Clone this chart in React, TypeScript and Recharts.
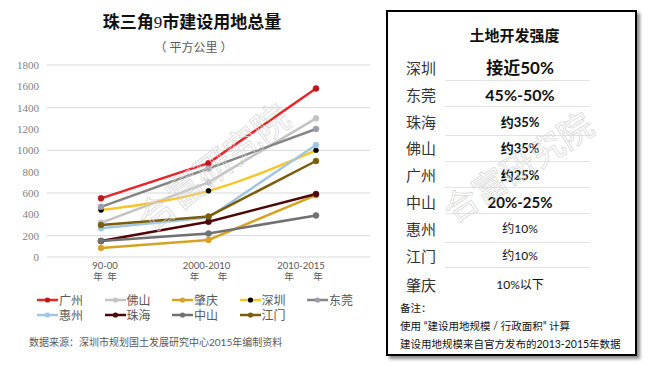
import { CartesianGrid, Line, LineChart, XAxis, YAxis } from "recharts"

// 时期
const categories = ["90-00", "2000-2010", "2010-2015"]

// 建设用地总量（平方公里）
const guangzhou = [550, 880, 1580]
const foshan = [320, 700, 1300]
const zhaoqing = [85, 160, 580]
const shenzhen = [440, 620, 1000]
const dongguan = [470, 830, 1200]
const huizhou = [270, 370, 1050]
const zhuhai = [150, 330, 590]
const zhongshan = [150, 220, 390]
const jiangmen = [300, 380, 900]

const seriesNames = ["广州", "佛山", "肇庆", "深圳", "东莞", "惠州", "珠海", "中山", "江门"]
const seriesValues = [guangzhou, foshan, zhaoqing, shenzhen, dongguan, huizhou, zhuhai, zhongshan, jiangmen]

const yTicks = [0, 200, 400, 600, 800, 1000, 1200, 1400, 1600, 1800]

// 土地开发强度
const intensityCities = ["深圳", "东莞", "珠海", "佛山", "广州", "中山", "惠州", "江门", "肇庆"]
const intensityValues = ["接近50%", "45%-50%", "约35%", "约35%", "约25%", "20%-25%", "约10%", "约10%", "10%以下"]
const notes = ["备注：", "使用 “建设用地规模 / 行政面积” 计算", "建设用地规模来自官方发布的2013-2015年数据"]

const lineColor: Record<string, string> = {
  广州: "#e5262b",
  佛山: "#c3c3c3",
  肇庆: "#d5a224",
  深圳: "#f7c52a",
  东莞: "#858585",
  惠州: "#a2c6e2",
  珠海: "#4d0707",
  中山: "#717171",
  江门: "#7c5d0a",
}
const dotColor: Record<string, string> = {
  ...lineColor,
  广州: "#c2151b",
  深圳: "#000000",
  东莞: "#9c9cae",
}

const data = categories.map((cat, i) => {
  const row: Record<string, string | number> = { cat }
  seriesNames.forEach((name, k) => {
    row[name] = seriesValues[k][i]
  })
  return row
})

const cjk = "Lato, 'Noto Sans CJK SC', sans-serif"
const grey = "#595959"

const labelShift = [4, -2, -15]
const yearShift = [
  [-7, 7],
  [-12, 16],
  [-12, 17],
]

function XTick(props: any) {
  const { x, y, payload, index } = props
  const i = payload?.index ?? index
  const cx = x + labelShift[i]
  return (
    <g fontFamily={cjk} fontSize={9.5} fill={grey}>
      <text x={cx} y={y + 4} textAnchor="middle">
        {payload.value}
      </text>
      {yearShift[i].map((d, k) => (
        <text key={k} x={cx + d} y={y + 15} textAnchor="middle">
          年
        </text>
      ))}
    </g>
  )
}

// 每行样式（字号 / 粗细）
const valueFont = [
  { size: 17, weight: 700 },
  { size: 16, weight: 700 },
  { size: 13, weight: 700 },
  { size: 13, weight: 700 },
  { size: 13, weight: 700 },
  { size: 15, weight: 700 },
  { size: 12, weight: 400 },
  { size: 12, weight: 400 },
  { size: 12, weight: 400 },
]
const rowY = [68, 95, 122, 148, 175, 202, 229, 256, 285]
const ruleY = [80, 106, 135, 161, 187, 213, 242, 267]

// 水印位置 [x, y, 角度, 字号]
const marks = [
  [222, 178, -38, 36],
  [525, 178, -33, 34],
]

export default function App() {
  return (
    <div style={{ position: "absolute", left: 0, top: 0, width: 651, height: 366, background: "#fff", fontFamily: cjk }}>
      <div style={{ position: "absolute", left: 0, width: 384, top: 10, textAlign: "center", fontSize: 17, fontWeight: 700, color: "#111", lineHeight: "24px" }}>
        珠三角<span style={{ fontFamily: "'Liberation Serif', serif", fontWeight: 400 }}>9</span>市建设用地总量
      </div>
      <div style={{ position: "absolute", left: 0, width: 387, top: 40, textAlign: "center", fontSize: 12, color: grey, lineHeight: "16px", whiteSpace: "pre" }}>
        （ 平方公里 ）
      </div>

      <div style={{ position: "absolute", left: 0, top: 0 }}>
        <LineChart width={380} height={366} data={data} margin={{ top: 65, right: 10, bottom: 79, left: 0 }}>
          <CartesianGrid vertical={false} stroke="#d9d9d9" />
          <XAxis
            dataKey="cat"
            axisLine={false}
            tickLine={false}
            height={30}
            padding={{ left: 54, right: 54 }}
            tick={<XTick />}
            interval={0}
          />
          <YAxis
            width={47}
            domain={[0, 1800]}
            ticks={yTicks}
            axisLine={false}
            tickLine={false}
            tick={{ fontFamily: "'Liberation Serif', serif", fontSize: 11, fill: "#7f7f7f" }}
          />
          {seriesNames.map((name) => (
            <Line
              key={name}
              type={name === "深圳" ? "monotone" : "linear"}
              dataKey={name}
              stroke={lineColor[name]}
              strokeWidth={2.5}
              dot={{ r: name === "深圳" ? 2.5 : 3, fill: dotColor[name], stroke: dotColor[name], strokeWidth: 0.5 }}
              isAnimationActive={false}
            />
          ))}
        </LineChart>
      </div>

      {/* 图例 */}
      <div style={{ position: "absolute", left: 37, top: 292, width: 345, display: "flex", flexWrap: "wrap" }}>
        {seriesNames.map((name) => (
          <div key={name} style={{ width: 67.5, height: 15, display: "flex", alignItems: "center", fontSize: 12, color: grey }}>
            <svg width={21} height={10} style={{ marginRight: 1 }}>
              <line x1={0} y1={5} x2={21} y2={5} stroke={lineColor[name]} strokeWidth={2.5} />
              <circle cx={10.5} cy={5} r={2.6} fill={dotColor[name]} />
            </svg>
            <span>{name}</span>
          </div>
        ))}
      </div>

      <div style={{ position: "absolute", left: 29, top: 335, fontSize: 10, color: grey, lineHeight: "14px", whiteSpace: "nowrap" }}>
        数据来源：深圳市规划国土发展研究中心2015年编制资料
      </div>

      {/* 右侧表格 */}
      <div
        style={{
          position: "absolute",
          left: 386,
          top: 10,
          width: 247,
          height: 342,
          border: "2px solid #000",
          boxShadow: "3px 3px 3px rgba(0,0,0,0.45)",
          background: "#fff",
        }}
      >
        <div style={{ position: "absolute", left: 0, right: 0, top: 13, textAlign: "center", fontSize: 15, fontWeight: 700, color: "#111", lineHeight: "20px", paddingLeft: 6 }}>
          土地开发强度
        </div>
        {ruleY.map((y, i) => (
          <div key={i} style={{ position: "absolute", left: 57, width: 145, top: y - 12, height: 1, background: "#e3e3e3" }} />
        ))}
        {intensityCities.map((city, i) => (
          <div key={city}>
            <div style={{ position: "absolute", left: 18, top: rowY[i] - 12 - 10, fontSize: 15, lineHeight: "20px", color: "#333" }}>{city}</div>
            <div
              style={{
                position: "absolute",
                left: 62,
                width: 140,
                top: rowY[i] - 12 - 10,
                textAlign: "center",
                fontSize: valueFont[i].size,
                fontWeight: valueFont[i].weight,
                lineHeight: "20px",
                color: "#111",
              }}
            >
              {intensityValues[i]}
            </div>
          </div>
        ))}
        {notes.map((t, i) => (
          <div key={i} style={{ position: "absolute", left: 12, top: 289 + i * 18, fontSize: 10.5, lineHeight: "14px", color: "#111", whiteSpace: "nowrap" }}>
            {t}
          </div>
        ))}
      </div>

      {/* 水印 */}
      <svg width={651} height={366} style={{ position: "absolute", left: 0, top: 0, pointerEvents: "none" }}>
        {marks.map(([x, y, a, s], i) => (
          <text
            key={i}
            x={x}
            y={y}
            textAnchor="middle"
            fontFamily="'Noto Sans CJK SC', sans-serif"
            fontSize={s}
            fill="none"
            stroke="#d4d4d4"
            strokeWidth={0.7}
            transform={`rotate(${a} ${x} ${y})`}
          >
            合富研究院
          </text>
        ))}
      </svg>
    </div>
  )
}
